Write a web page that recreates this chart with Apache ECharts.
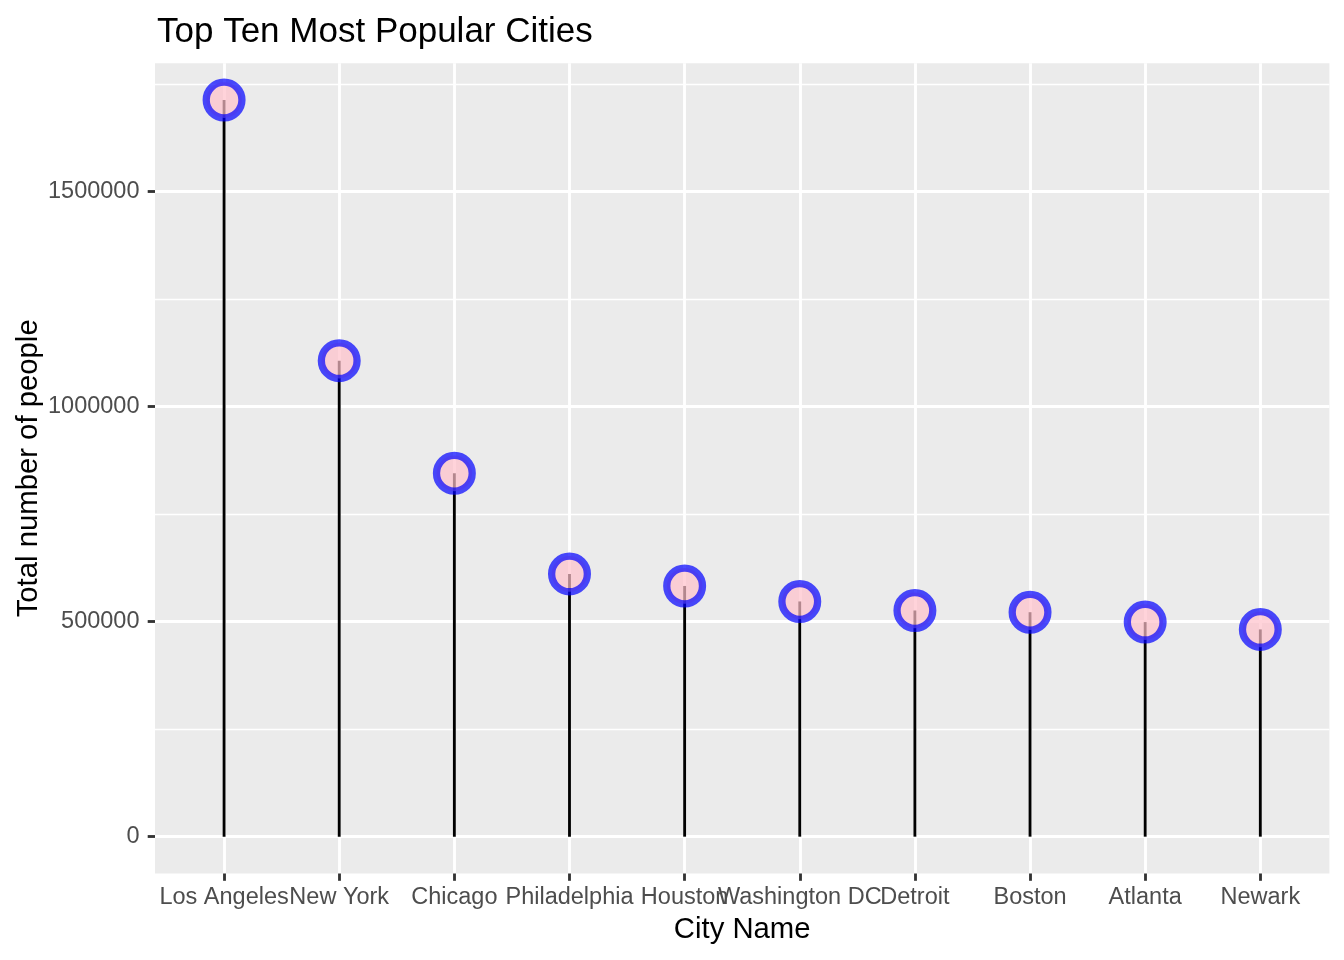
<!DOCTYPE html>
<html>
<head>
<meta charset="utf-8">
<script src="https://cdn.jsdelivr.net/npm/echarts@6/dist/echarts.min.js"></script>
<style>
html,body{margin:0;padding:0;background:#ffffff;}
#chart{width:1344px;height:960px;}
</style>
</head>
<body>
<div id="chart"></div>
<script>
// ---- data ----
const cities = ['Los Angeles', 'New York', 'Chicago', 'Philadelphia', 'Houston',
                'Washington DC', 'Detroit', 'Boston', 'Atlanta', 'Newark'];
const population = [1713000, 1107000, 845000, 611000, 583000,
                    547000, 526000, 522000, 499000, 482000];
const yMajorBreaks = [0, 500000, 1000000, 1500000];
const yMinorBreaks = [250000, 750000, 1250000, 1750000];
const chartTitle = 'Top Ten Most Popular Cities';
const xAxisTitle = 'City Name';
const yAxisTitle = 'Total number of people';

// ---- build ----
const FONT = '"Liberation Sans", Arial, Helvetica, sans-serif';
const yDataMax = Math.max(...population);
const yLo = -0.05 * yDataMax;   // ggplot-style 5% expansion
const yHi = 1.05 * yDataMax;
const xPositions = cities.map((c, i) => i);
const points = population.map((v, i) => [i, v]);

const chart = echarts.init(document.getElementById('chart'), null, {renderer: 'canvas'});
const option = {
  backgroundColor: '#ffffff',
  animation: false,
  title: {
    text: chartTitle,
    left: 157,
    top: 15,
    padding: 0,
    textStyle: {fontFamily: FONT, fontSize: 35, fontWeight: 'normal', color: '#000000'}
  },
  grid: {
    left: 155, right: 14.6, top: 63.2, bottom: 86.5,
    show: true, backgroundColor: '#EBEBEB', borderWidth: 0,
    containLabel: false
  },
  xAxis: {
    type: 'value',
    min: -0.6, max: 9.6,
    name: xAxisTitle,
    nameLocation: 'middle',
    nameGap: 41.5,
    nameMoveOverlap: false,
    nameTextStyle: {fontFamily: FONT, fontSize: 29.3, color: '#000000'},
    axisLine: {show: false, onZero: false},
    axisTick: {show: true, customValues: xPositions, length: 7.3,
               lineStyle: {color: '#333333', width: 2.85}},
    axisLabel: {customValues: xPositions, formatter: v => cities[Math.round(v)],
                margin: 12, color: '#4D4D4D', fontSize: 23.5, fontFamily: FONT,
                hideOverlap: false},
    splitLine: {show: true, lineStyle: {color: '#ffffff', width: 2.85}}
  },
  yAxis: [{
    type: 'value',
    min: yLo, max: yHi,
    name: yAxisTitle,
    nameLocation: 'middle',
    nameGap: 112,
    nameRotate: 90,
    nameMoveOverlap: false,
    nameTextStyle: {fontFamily: FONT, fontSize: 29.3, color: '#000000'},
    axisLine: {show: false, onZero: false},
    axisTick: {show: true, customValues: yMajorBreaks, length: 7.3,
               lineStyle: {color: '#333333', width: 2.85}},
    axisLabel: {customValues: yMajorBreaks, formatter: v => String(v),
                margin: 15.5, color: '#4D4D4D', fontSize: 23.5, fontFamily: FONT},
    splitLine: {show: true, lineStyle: {color: '#ffffff', width: 2.85}}
  }, {
    type: 'value',
    position: 'left',
    min: yLo, max: yHi,
    axisLine: {show: false, onZero: false},
    axisTick: {show: false, customValues: yMinorBreaks},
    axisLabel: {show: false, customValues: yMinorBreaks},
    splitLine: {show: true, lineStyle: {color: '#ffffff', width: 1.4}}
  }],
  series: [{
    type: 'bar',
    data: points,
    barWidth: 2.85,
    itemStyle: {color: '#000000'},
    z: 2
  }, {
    type: 'scatter',
    data: points,
    symbol: 'circle',
    symbolSize: 35.7,
    itemStyle: {color: 'rgba(255,192,203,0.7)', borderColor: 'rgba(0,0,255,0.7)',
                borderWidth: 7.3, opacity: 1},
    z: 3
  }]
};
chart.setOption(option);
</script>
</body>
</html>
